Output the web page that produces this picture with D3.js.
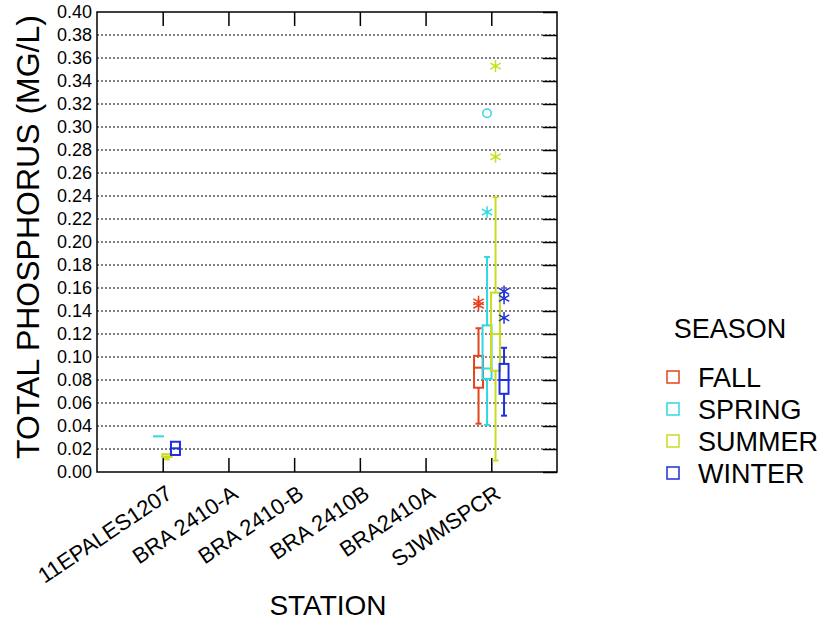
<!DOCTYPE html>
<html>
<head>
<meta charset="utf-8">
<script src="https://cdn.jsdelivr.net/npm/d3@7"></script>
<style>
body { margin: 0; background: #fff; }
text { font-family: "Liberation Sans", Arial, sans-serif; fill: #000; }
</style>
</head>
<body>
<div id="chart"></div>
<script>
// categories
var stations = ["11EPALES1207", "BRA 2410-A", "BRA 2410-B", "BRA 2410B", "BRA2410A", "SJWMSPCR"];
var seasons = ["FALL", "SPRING", "SUMMER", "WINTER"];
var seasonColors = ["#e5431d", "#2fd8e3", "#c9dd1f", "#1f2fdc"];
var yTicks = d3.range(0, 0.401, 0.02);

// box stats: [low whisker, q1, median, q3, high whisker]
var boxStation = ["11EPALES1207", "11EPALES1207", "11EPALES1207", "SJWMSPCR", "SJWMSPCR", "SJWMSPCR", "SJWMSPCR"];
var boxSeason  = ["SPRING", "SUMMER", "WINTER", "FALL", "SPRING", "SUMMER", "WINTER"];
var boxValues  = [
  [0.031, 0.031, 0.031, 0.031, 0.031],
  [0.011, 0.013, 0.0135, 0.0155, 0.0155],
  [0.0148, 0.0148, 0.0206, 0.0263, 0.0263],
  [0.042, 0.0733, 0.0907, 0.101, 0.125],
  [0.041, 0.081, 0.090, 0.1275, 0.187],
  [0.010, 0.088, 0.120, 0.156, 0.239],
  [0.049, 0.068, 0.080, 0.094, 0.108]
];

// outliers: star = outside, circle = far outside
var outStation = ["SJWMSPCR", "SJWMSPCR", "SJWMSPCR", "SJWMSPCR", "SJWMSPCR", "SJWMSPCR", "SJWMSPCR", "SJWMSPCR", "SJWMSPCR"];
var outSeason  = ["FALL", "FALL", "SPRING", "SPRING", "SUMMER", "SUMMER", "WINTER", "WINTER", "WINTER"];
var outValue   = [0.145, 0.148, 0.226, 0.312, 0.274, 0.353, 0.157, 0.151, 0.134];
var outKind    = ["star", "star", "star", "circle", "star", "star", "star", "star", "star"];

var margin = {top: 12, right: 267, bottom: 153, left: 97},
    width = 824 - margin.left - margin.right,
    height = 625 - margin.top - margin.bottom;

var x = d3.scalePoint().domain(stations).range([0, width]).padding(1);
var off = d3.scalePoint().domain(seasons).range([-12.75, 12.75]);
var y = d3.scaleLinear().domain([0, 0.4]).range([height, 0]);
var color = d3.scaleOrdinal().domain(seasons).range(seasonColors);

var svg = d3.select("#chart").append("svg")
  .attr("width", 824)
  .attr("height", 625)
  .append("g")
  .attr("transform", "translate(" + margin.left + "," + margin.top + ")");

// dotted gridlines
svg.append("g").selectAll("line")
  .data(yTicks.filter(function(d) { return d > 0.001 && d < 0.399; }))
  .enter().append("line")
  .attr("x1", 0).attr("x2", width)
  .attr("y1", function(d) { return y(d); })
  .attr("y2", function(d) { return y(d); })
  .attr("stroke", "#000")
  .attr("stroke-width", 1)
  .attr("stroke-dasharray", "2,2");

// left axis labels
var yAxis = d3.axisLeft(y).tickValues(yTicks).tickFormat(d3.format(".2f")).tickSize(0).tickPadding(5);
var gy = svg.append("g").call(yAxis);
gy.select(".domain").remove();
gy.selectAll("text").style("font-size", "18px").attr("font-family", null);

// right axis inward ticks
var yRight = d3.axisRight(y).tickValues(yTicks).tickSize(-14).tickFormat("");
var gr = svg.append("g").attr("transform", "translate(" + width + ",0)").call(yRight);
gr.select(".domain").remove();
gr.selectAll("line").attr("stroke-width", 1.5);

// bottom and top inward category ticks
var xAxis = d3.axisBottom(x).tickSize(-14).tickFormat("");
var gx = svg.append("g").attr("transform", "translate(0," + height + ")").call(xAxis);
gx.select(".domain").remove();
gx.selectAll("line").attr("stroke-width", 1.5);
var xTop = d3.axisTop(x).tickSize(-14).tickFormat("");
var gt = svg.append("g").call(xTop);
gt.select(".domain").remove();
gt.selectAll("line").attr("stroke-width", 1.5);

// frame
svg.append("rect")
  .attr("width", width).attr("height", height)
  .attr("fill", "none").attr("stroke", "#000").attr("stroke-width", 1.5);

// category labels
svg.append("g").selectAll("text")
  .data(stations)
  .enter().append("text")
  .attr("transform", function(d) { return "translate(" + (x(d) + 11) + "," + (height + 25) + ") rotate(-34)"; })
  .attr("text-anchor", "end")
  .style("font-size", "22px")
  .text(function(d) { return d; });

// boxes
var boxes = boxValues.map(function(v, i) {
  return {station: boxStation[i], season: boxSeason[i], lo: v[0], q1: v[1], med: v[2], q3: v[3], hi: v[4]};
});
var bw = 9, cap = 3;
var bg = svg.append("g").selectAll("g")
  .data(boxes)
  .enter().append("g")
  .attr("transform", function(d) { return "translate(" + (x(d.station) + off(d.season)) + ",0)"; })
  .attr("stroke", function(d) { return color(d.season); })
  .attr("stroke-width", 2)
  .attr("fill", "none");

bg.append("line")
  .attr("x1", 0).attr("x2", 0)
  .attr("y1", function(d) { return y(d.hi); })
  .attr("y2", function(d) { return y(d.q3); });
bg.append("line")
  .attr("x1", 0).attr("x2", 0)
  .attr("y1", function(d) { return y(d.q1); })
  .attr("y2", function(d) { return y(d.lo); });
bg.filter(function(d) { return d.hi > d.q3; }).append("line")
  .attr("x1", -cap).attr("x2", cap)
  .attr("y1", function(d) { return y(d.hi); })
  .attr("y2", function(d) { return y(d.hi); });
bg.filter(function(d) { return d.lo < d.q1; }).append("line")
  .attr("x1", -cap).attr("x2", cap)
  .attr("y1", function(d) { return y(d.lo); })
  .attr("y2", function(d) { return y(d.lo); });
bg.append("rect")
  .attr("x", -bw / 2).attr("width", bw)
  .attr("y", function(d) { return y(d.q3); })
  .attr("height", function(d) { return y(d.q1) - y(d.q3); });
bg.append("line")
  .attr("x1", -bw / 2 - 1).attr("x2", bw / 2 + 1)
  .attr("y1", function(d) { return y(d.med); })
  .attr("y2", function(d) { return y(d.med); });

// outliers
var outliers = outValue.map(function(v, i) {
  return {station: outStation[i], season: outSeason[i], value: v, kind: outKind[i]};
});
var star = d3.symbol().type(d3.symbolAsterisk).size(100);
var circ = d3.symbol().type(d3.symbolCircle).size(55);
svg.append("g").selectAll("path")
  .data(outliers)
  .enter().append("path")
  .attr("transform", function(d) { return "translate(" + (x(d.station) + off(d.season)) + "," + y(d.value) + ")"; })
  .attr("d", function(d) { return d.kind === "circle" ? circ() : star(); })
  .attr("fill", "none")
  .attr("stroke", function(d) { return color(d.season); })
  .attr("stroke-width", 1.5);

// axis titles
svg.append("text")
  .attr("transform", "translate(-58," + (height / 2 - 5) + ") rotate(-90)")
  .attr("text-anchor", "middle")
  .style("font-size", "32px")
  .text("TOTAL PHOSPHORUS (MG/L)");

svg.append("text")
  .attr("x", 231).attr("y", height + 143)
  .attr("text-anchor", "middle")
  .style("font-size", "28px")
  .text("STATION");

// legend
var legend = svg.append("g").attr("transform", "translate(" + (width + 110) + ",0)");
legend.append("text")
  .attr("x", 63).attr("y", 326)
  .attr("text-anchor", "middle")
  .style("font-size", "27px")
  .text("SEASON");
var li = legend.selectAll(".item")
  .data(seasons)
  .enter().append("g")
  .attr("class", "item")
  .attr("transform", function(d, i) { return "translate(0," + (365 + i * 32) + ")"; });
li.append("rect")
  .attr("x", 0).attr("y", -6).attr("width", 12).attr("height", 12)
  .attr("fill", "none")
  .attr("stroke", function(d) { return color(d); })
  .attr("stroke-width", 1.5);
li.append("text")
  .attr("x", 31).attr("y", 10)
  .style("font-size", "27px")
  .text(function(d) { return d; });
</script>
</body>
</html>
